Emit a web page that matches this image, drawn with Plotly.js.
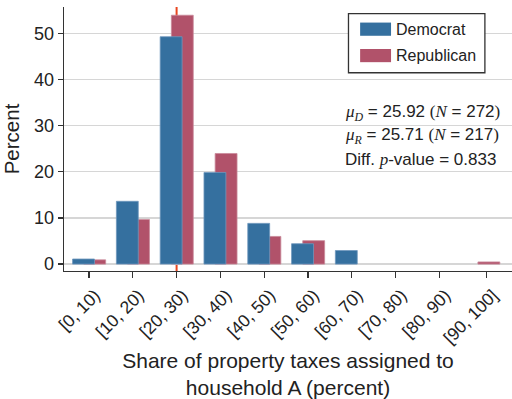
<!DOCTYPE html>
<html>
<head>
<meta charset="utf-8">
<script src="https://cdn.plot.ly/plotly-3.0.1.min.js"></script>
<style>
  html, body { margin: 0; padding: 0; background: #fff; }
  #chart { width: 512px; height: 399px; }
</style>
</head>
<body>
<div id="chart"></div>
<script>
// Share of property taxes assigned to household A, by party (percent of respondents)
const bins = ["[0, 10)", "[10, 20)", "[20, 30)", "[30, 40)", "[40, 50)",
              "[50, 60)", "[60, 70)", "[70, 80)", "[80, 90)", "[90, 100]"];
const democrat   = [1.10, 13.60, 49.26, 19.85, 8.82, 4.41, 2.94, 0, 0, 0];
const republican = [0.92, 9.68, 53.92, 23.96, 5.99, 5.07, 0, 0, 0, 0.46];
const seriesNames = ["Democrat", "Republican"];
const serif = "Liberation Serif, Times New Roman, serif";
const statLines = [
  '<span style="font-family:' + serif + '"><i>μ<sub>D</sub></i></span> = 25.92 <span style="font-family:' + serif + '">(<i>N</i></span> = 272<span style="font-family:' + serif + '">)</span>',
  '<span style="font-family:' + serif + '"><i>μ<sub>R</sub></i></span> = 25.71 <span style="font-family:' + serif + '">(<i>N</i></span> = 217<span style="font-family:' + serif + '">)</span>',
  'Diff. <span style="font-family:' + serif + '"><i>p</i></span>-value = 0.833'
];
const meanBin = 2; // bin holding the mean share

const blue = "#35709f";
const red  = "#b1526a";
const font = "Liberation Sans, Arial, sans-serif";
const idx = bins.map((_, i) => i);
const edge = vals => vals.map(v => (v > 0 ? 0.8 : 0));

// Republican drawn first so the Democrat bars sit on top where they overlap
const traces = [
  {
    type: "bar", name: seriesNames[1], x: idx, y: republican,
    width: 0.5, offset: -0.12,
    marker: { color: red, line: { color: "#c98a9a", width: edge(republican) } },
    showlegend: false, hoverinfo: "x+y"
  },
  {
    type: "bar", name: seriesNames[0], x: idx, y: democrat,
    width: 0.5, offset: -0.375,
    marker: { color: blue, line: { color: "#6f97bd", width: edge(democrat) } },
    showlegend: false, hoverinfo: "x+y"
  }
];

// Framed legend box with wide swatches
const L = { x0: 0.635, x1: 0.9395, y0: 0.751, y1: 0.975 };
const shapes = [
  { type: "line", xref: "x", yref: "paper", x0: meanBin, x1: meanBin, y0: 0, y1: 1,
    line: { color: "#e8451f", width: 2 }, layer: "between" },
  { type: "rect", xref: "paper", yref: "paper", x0: L.x0, x1: L.x1, y0: L.y0, y1: L.y1,
    line: { color: "#333", width: 1.3 }, fillcolor: "#fff", layer: "above" },
  { type: "rect", xref: "paper", yref: "paper", x0: 0.661, x1: 0.730, y0: 0.891, y1: 0.941,
    line: { width: 0 }, fillcolor: blue, layer: "above" },
  { type: "rect", xref: "paper", yref: "paper", x0: 0.661, x1: 0.730, y0: 0.791, y1: 0.841,
    line: { width: 0 }, fillcolor: red, layer: "above" }
];

const annotations = [
  { text: seriesNames[0], xref: "paper", yref: "paper", x: 0.737, y: 0.916,
    xanchor: "left", yanchor: "middle", showarrow: false, font: { family: font, size: 16, color: "#222" } },
  { text: seriesNames[1], xref: "paper", yref: "paper", x: 0.737, y: 0.816,
    xanchor: "left", yanchor: "middle", showarrow: false, font: { family: font, size: 16, color: "#222" } }
].concat(statLines.map((t, i) => ({
  text: t, xref: "paper", yref: "paper", x: 0.622, y: 0.598 - i * 0.088,
  xanchor: "left", yanchor: "middle", showarrow: false,
  font: { family: font, size: 17, color: "#222" }
})));

const layout = {
  width: 512, height: 399,
  margin: { l: 64, r: 0, t: 7, b: 128, pad: 0 },
  paper_bgcolor: "#fff", plot_bgcolor: "#fff",
  font: { family: font, color: "#222", size: 17 },
  barmode: "overlay",
  showlegend: false,
  xaxis: {
    range: [-0.571, 9.658],
    tickmode: "array",
    tickvals: idx.map(i => (i === 9 ? 9.08 : i)),
    ticktext: bins,
    tickangle: -45,
    ticklabelshift: 6,
    ticks: "outside", ticklen: 6, tickcolor: "#333", tickwidth: 1.2,
    showline: true, linecolor: "#333", linewidth: 1.3,
    showgrid: false, zeroline: false,
    tickfont: { family: font, size: 17.5, color: "#222" },
    title: { text: "Share of property taxes assigned to<br>household A (percent)",
             font: { family: font, size: 21, color: "#222" }, standoff: 12 }
  },
  yaxis: {
    range: [-1.5, 55.7],
    tickvals: [0, 10, 20, 30, 40, 50],
    ticks: "outside", ticklen: 5, tickcolor: "#333", tickwidth: 1.2,
    showline: true, linecolor: "#333", linewidth: 1.3,
    showgrid: true, gridcolor: "#d6d6d6", gridwidth: 1.3, zeroline: false,
    tickfont: { family: font, size: 18, color: "#222" },
    title: { text: "Percent", font: { family: font, size: 20.5, color: "#222" }, standoff: 9 }
  },
  shapes: shapes,
  annotations: annotations
};

Plotly.newPlot("chart", traces, layout, { staticPlot: true, displayModeBar: false });
</script>
</body>
</html>
